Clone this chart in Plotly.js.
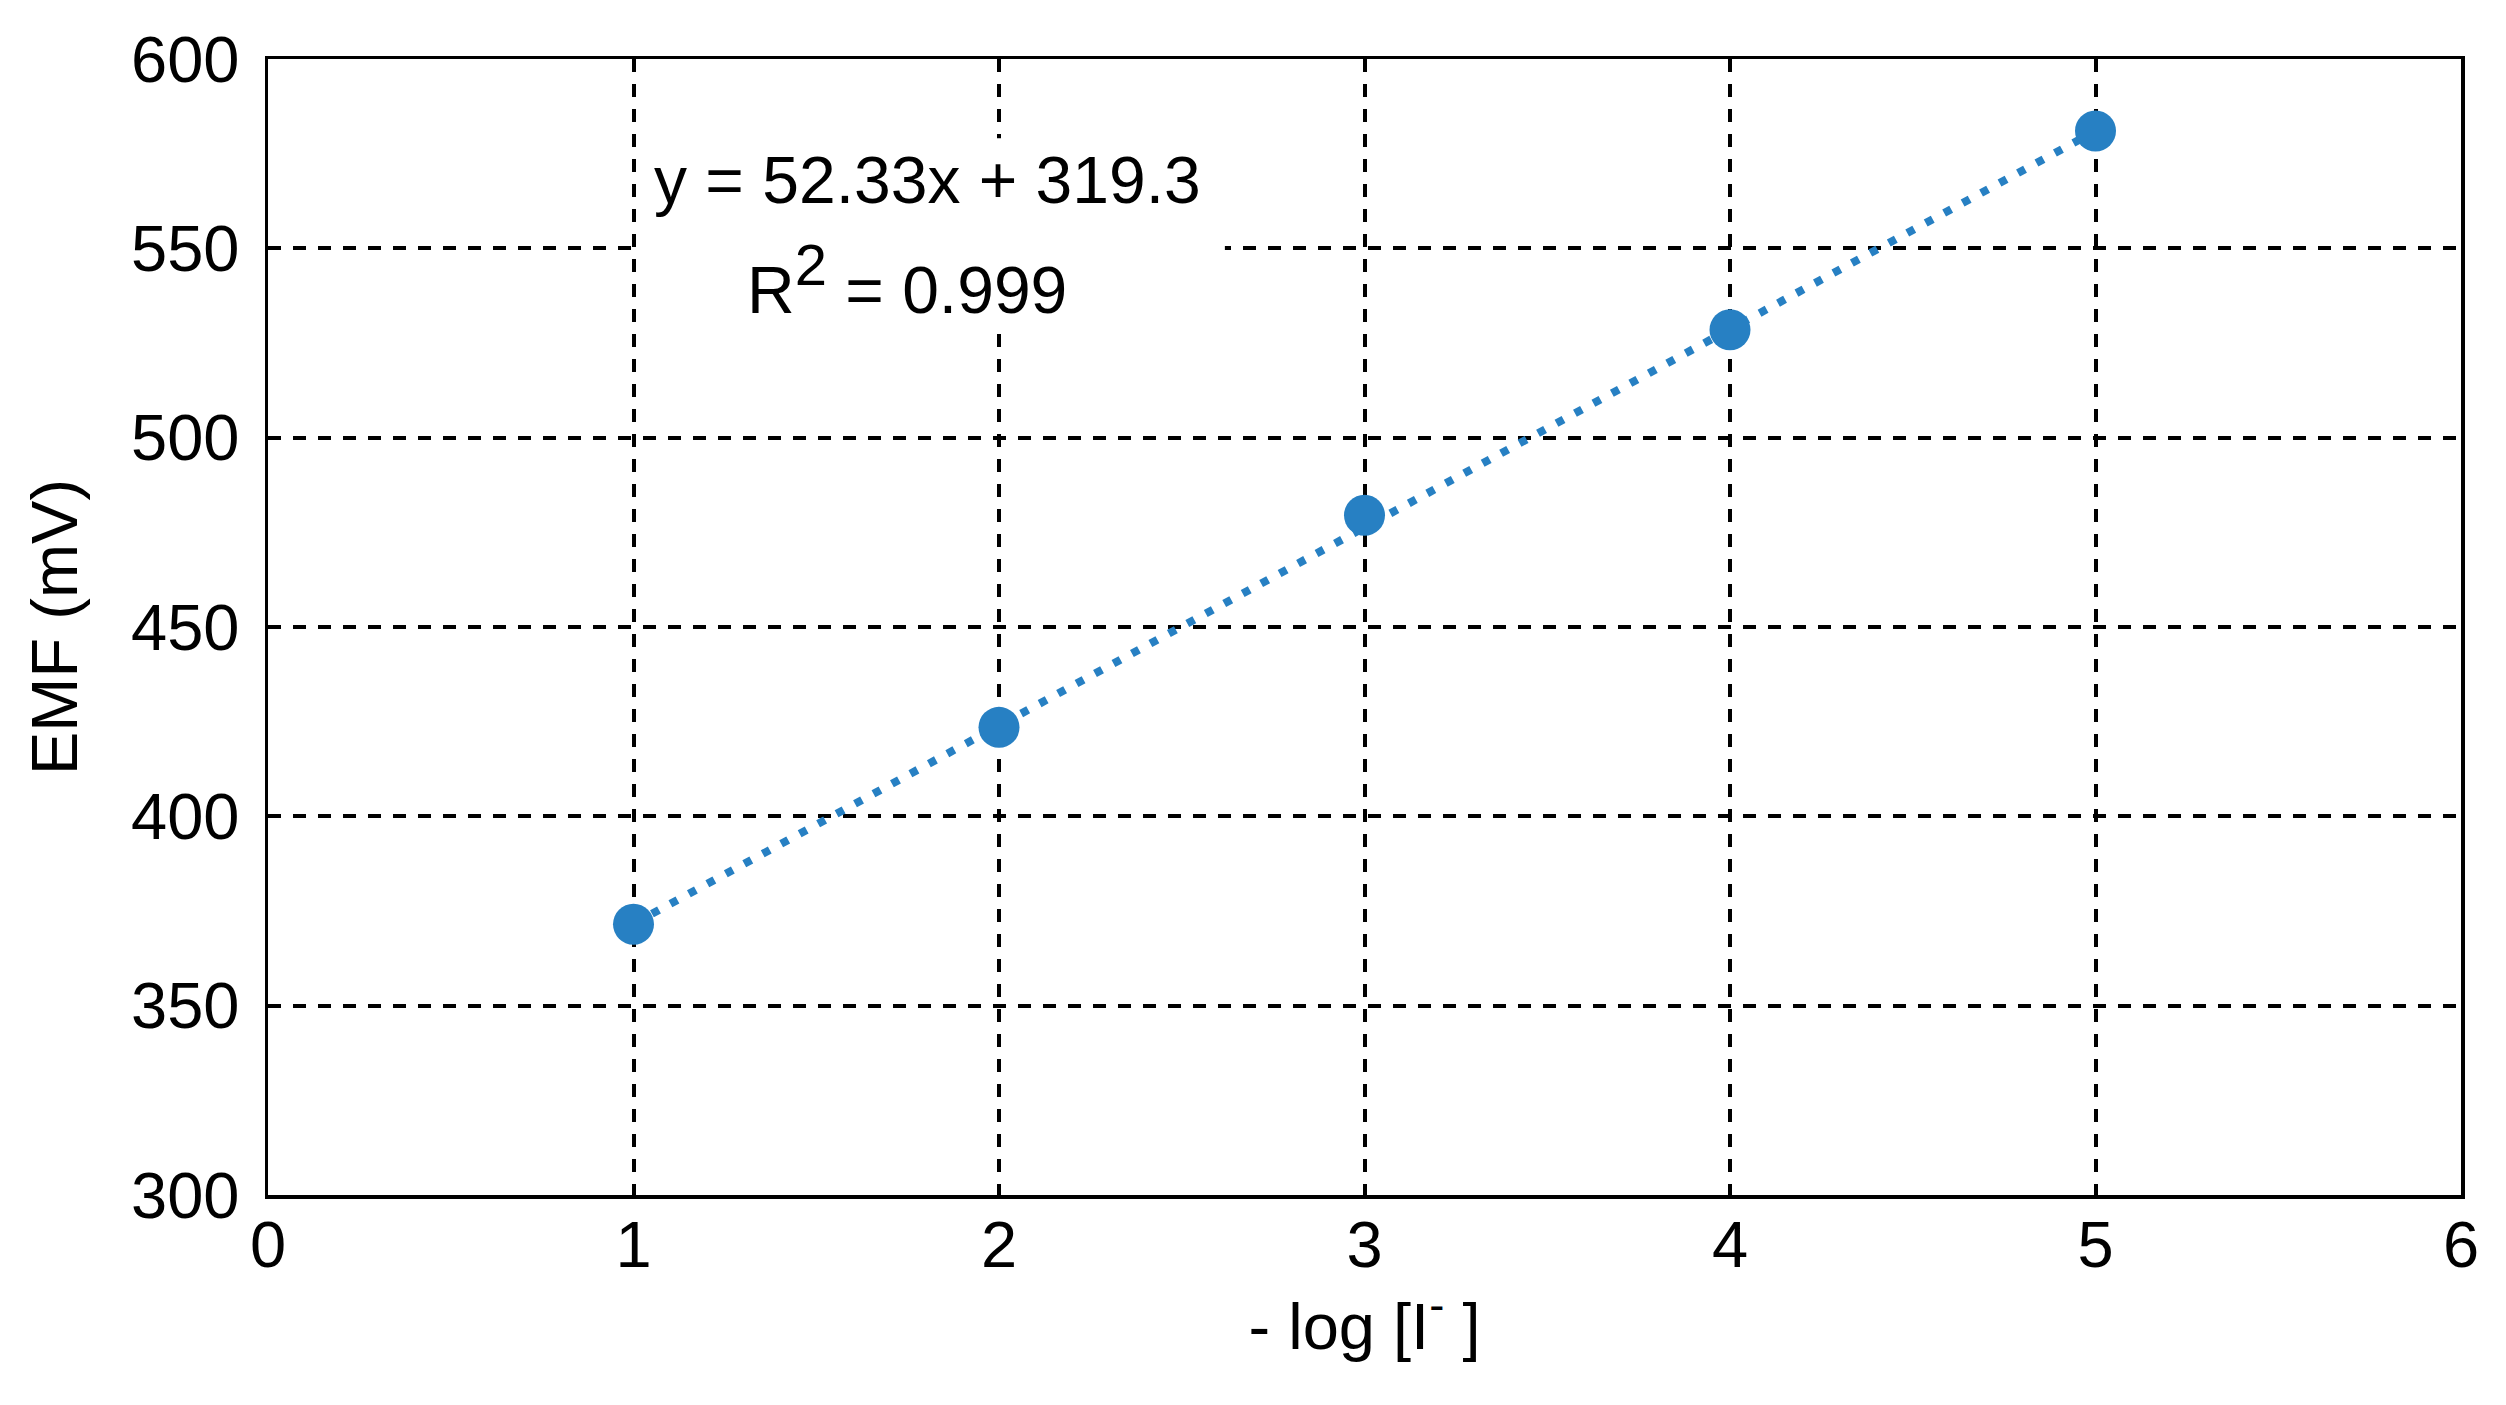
<!DOCTYPE html>
<html>
<head>
<meta charset="utf-8">
<script src="https://cdn.plot.ly/plotly-3.0.1.min.js"></script>
<style>html,body{margin:0;padding:0;background:#fff;}#chart{width:2506px;height:1405px;}</style>
</head>
<body>
<div id="chart"></div>
<script>
// Data
const logConc = [1, 2, 3, 4, 5];
const emf = [371.5, 423.5, 479.5, 528.5, 581.0];
const trendX = [1, 5];
const trendY = [371.6, 581.0];
const xTicks = [0, 1, 2, 3, 4, 5, 6];
const yTicks = [300, 350, 400, 450, 500, 550, 600];
const eqText = "y = 52.33x + 319.3";
const r2Text = "R<sup><span style=\"font-size:58px\">2</span></sup> = 0.999";

const FONT = "Liberation Sans, Arial, sans-serif";
const BLUE = "#2780c3";

const traces = [
  {
    x: trendX, y: trendY, type: "scatter", mode: "lines",
    line: {color: BLUE, width: 8, dash: "8px,13px"},
    hoverinfo: "skip", showlegend: false
  },
  {
    x: logConc, y: emf, type: "scatter", mode: "markers",
    marker: {color: BLUE, size: 41, line: {width: 0}},
    showlegend: false
  }
];

const axisCommon = {
  showline: true, mirror: true, linecolor: "#000", linewidth: 3.5,
  showgrid: true, gridcolor: "#000", gridwidth: 4, griddash: "13px,12px",
  zeroline: false, ticks: "",
  tickfont: {family: FONT, size: 65, color: "#000"}
};

const layout = {
  width: 2506, height: 1405,
  margin: {l: 268, r: 45, t: 59, b: 210},
  paper_bgcolor: "#fff", plot_bgcolor: "#fff",
  font: {family: FONT, color: "#000"},
  xaxis: Object.assign({}, axisCommon, {
    range: [0, 6], tickmode: "array", tickvals: xTicks, ticktext: xTicks.map(String),
    ticklabelstandoff: -10,
    title: {text: "- log [I<sup>-</sup> ]", font: {family: FONT, size: 65, color: "#000"}, standoff: 8}
  }),
  yaxis: Object.assign({}, axisCommon, {
    range: [300, 600], tickmode: "array", tickvals: yTicks, ticktext: yTicks.map(String),
    ticklabelstandoff: 12,
    title: {text: "EMF (mV)", font: {family: FONT, size: 65, color: "#000"}, standoff: 33}
  }),
  shapes: [
    {type: "rect", xref: "x", yref: "y", x0: 1.017, x1: 2.618, y0: 529.2, y1: 579.1,
     fillcolor: "#fff", line: {width: 0}, layer: "between"}
  ],
  annotations: [
    {x: 1.805, y: 568.0, xref: "x", yref: "y", text: eqText, showarrow: false,
     font: {family: FONT, size: 66, color: "#000"}, xanchor: "center", yanchor: "middle"},
    {x: 1.747, y: 541.9, xref: "x", yref: "y", text: r2Text, showarrow: false,
     font: {family: FONT, size: 66, color: "#000"}, xanchor: "center", yanchor: "middle"}
  ]
};

Plotly.newPlot("chart", traces, layout, {displayModeBar: false, staticPlot: true});
</script>
</body>
</html>
